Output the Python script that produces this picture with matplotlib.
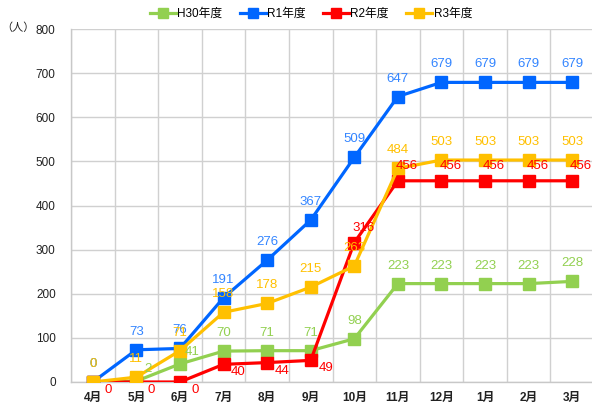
import matplotlib
matplotlib.use("Agg")
import matplotlib.pyplot as plt
from matplotlib import font_manager as fm
from matplotlib.lines import Line2D

names = {f.name for f in fm.fontManager.ttflist}
narrow = "Liberation Sans Narrow" if "Liberation Sans Narrow" in names else "Liberation Sans"
FAM = [narrow, "Noto Sans CJK JP", "DejaVu Sans"]
plt.rcParams['font.family'] = FAM

months = ["4月", "5月", "6月", "7月", "8月", "9月", "10月", "11月", "12月", "1月", "2月", "3月"]
series_names = ["H30年度", "R1年度", "R2年度", "R3年度"]
h30 = [0, 2, 41, 70, 71, 71, 98, 223, 223, 223, 223, 228]
r1 = [0, 73, 76, 191, 276, 367, 509, 647, 679, 679, 679, 679]
r2 = [0, 0, 0, 40, 44, 49, 316, 456, 456, 456, 456, 456]
r3 = [0, 11, 71, 158, 178, 215, 263, 484, 503, 503, 503, 503]
yticks = [0, 100, 200, 300, 400, 500, 600, 700, 800]

colors = ["#92D050", "#0066FF", "#FF0000", "#FFC000"]
label_colors = ["#92D050", "#3385FF", "#FF0000", "#FFC000"]

fig = plt.figure(figsize=(5.92, 4.08), dpi=100)
ax = fig.add_axes([71/592, 1-382/408, 523/592, (382-29)/408])

x = list(range(len(months)))
all_series = [h30, r1, r2, r3]
for i, vals in enumerate(all_series):
    ax.plot(x, vals, color=colors[i], lw=2.3, marker="s", ms=8,
            markeredgecolor=colors[i], markerfacecolor=colors[i], zorder=3+i,
            solid_joinstyle="miter")

# label offsets in pixels (style only)
def offsets(i, j):
    if i == 2:
        return (15, -8) if j < 6 else (9, 15)
    if i == 0 and j in (1, 2):
        return (12, 12)
    return (0, 18)

for i, vals in enumerate(all_series):
    for j, v in enumerate(vals):
        dx, dy = offsets(i, j)
        ax.annotate(str(v), (j, v), xytext=(dx, dy), textcoords="offset pixels",
                    ha="center", va="center", color=label_colors[i], fontsize=9.5,
                    zorder=10)

ax.set_xlim(-0.5, len(months) - 0.5)
ax.set_ylim(0, 800)
ax.set_yticks(yticks)
ax.set_yticklabels([str(t) for t in yticks], fontsize=8.5, color="#222222")
ax.set_xticks(x)
ax.set_xticklabels(months, fontsize=8.5, fontweight="bold", color="#222222")
ax.set_xticks([k - 0.5 for k in range(len(months) + 1)], minor=True)
ax.tick_params(axis="x", which="major", length=0, pad=7)
ax.tick_params(axis="x", which="minor", length=0)
ax.tick_params(axis="y", length=0, pad=11)
ax.grid(True, which="minor", axis="x", color="#D0D0D0", lw=1)
ax.grid(True, which="major", axis="y", color="#D0D0D0", lw=1)
ax.set_axisbelow(True)
for s in ["top", "right"]:
    ax.spines[s].set_visible(False)
for s in ["left", "bottom"]:
    ax.spines[s].set_color("#C8C8C8")
    ax.spines[s].set_linewidth(1)

fig.text(1/592, 1-28/408, "（人）", fontsize=8, va="center", ha="left", color="#222222",
         family=["Noto Sans CJK JP", "DejaVu Sans"])

handles = [Line2D([0], [0], color=c, lw=2.3, marker="s", ms=7) for c in colors]
fig.legend(handles, series_names, loc="center", bbox_to_anchor=(0.525, 1-14/408), ncol=4,
           frameon=False, fontsize=8.5, handlelength=2.2, handletextpad=0.1,
           columnspacing=1.5, borderaxespad=0)

fig.savefig("out.png", dpi=100)
